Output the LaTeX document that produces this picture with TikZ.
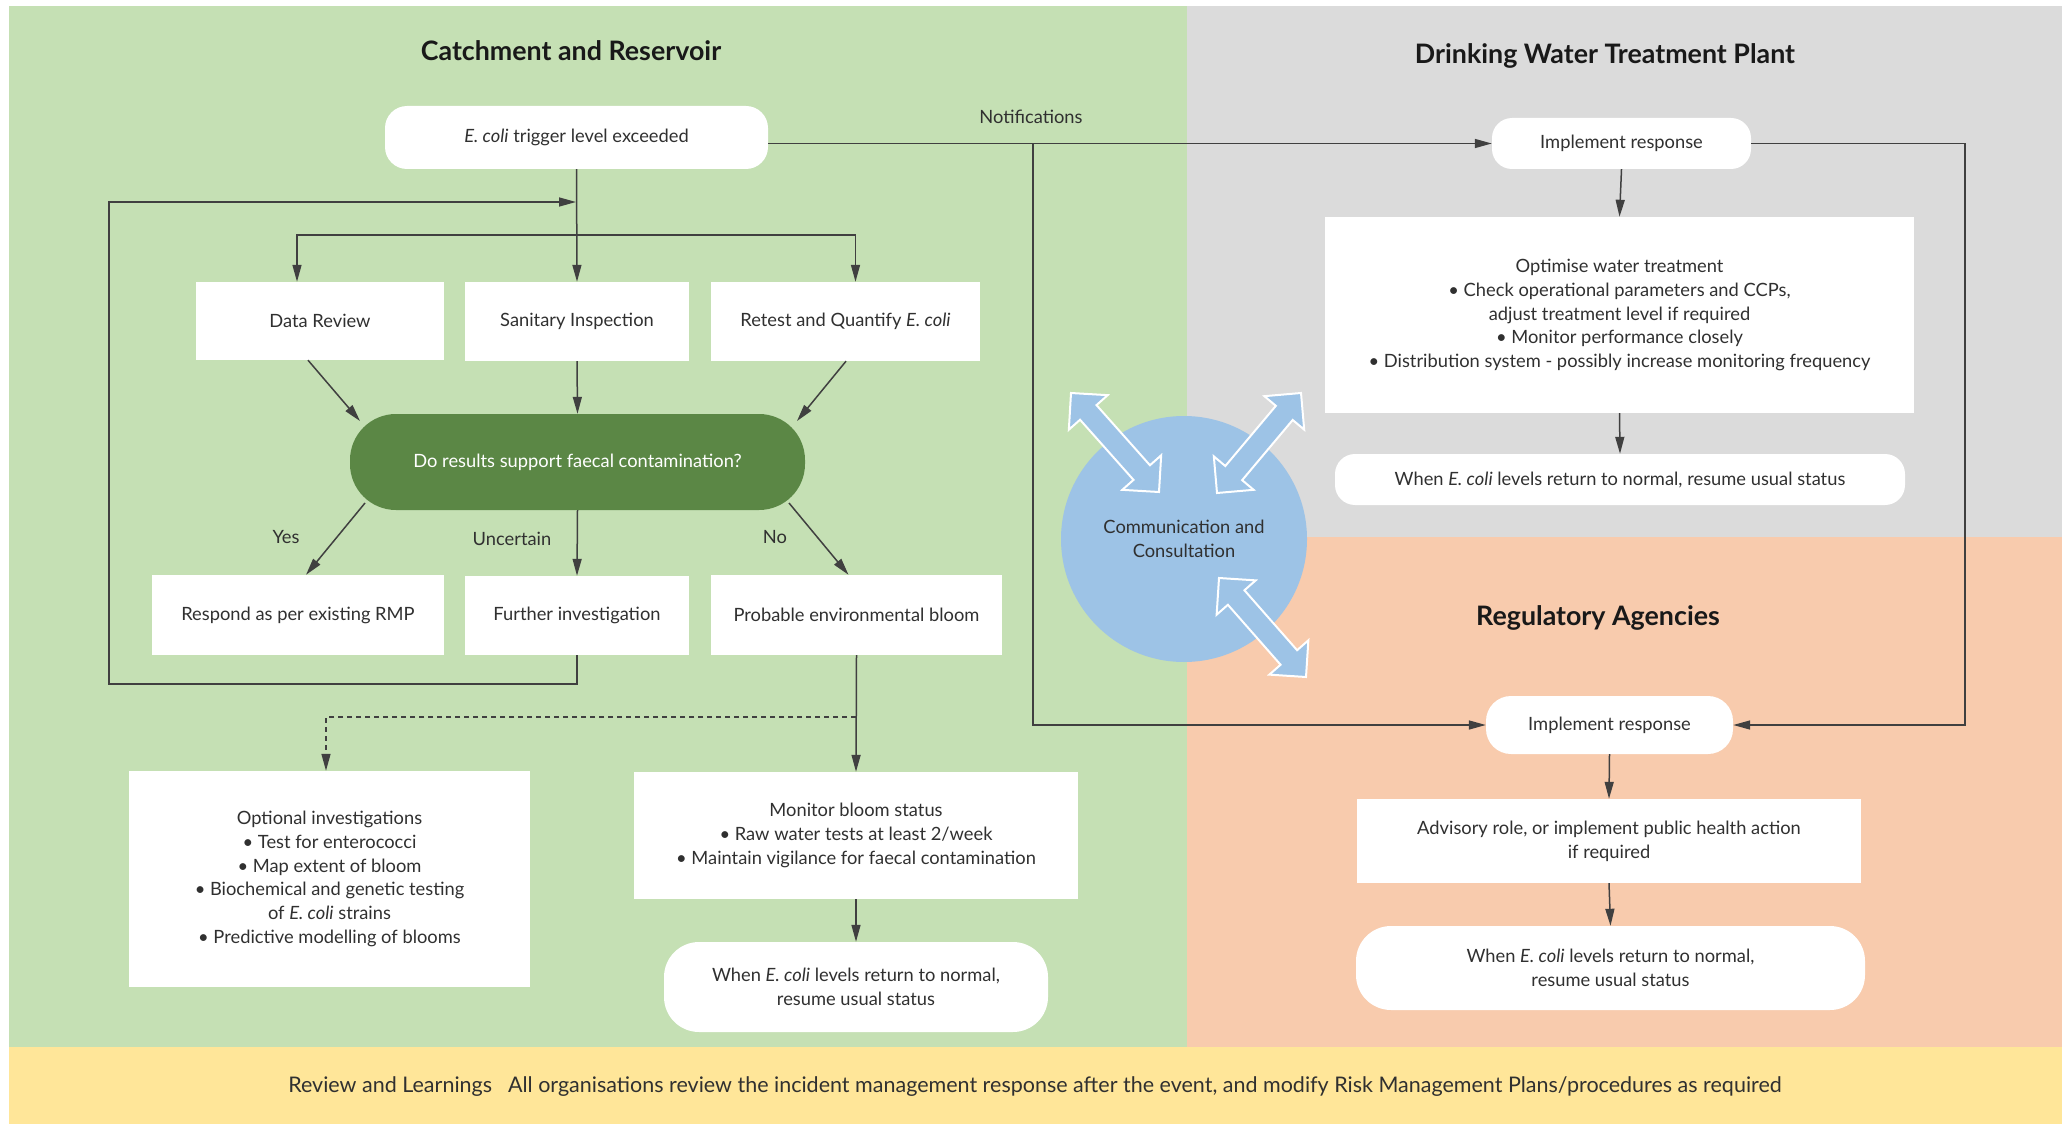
\documentclass[tikz,border=0pt]{standalone}
\usepackage{fontspec}
\setmainfont{Lato}
\usetikzlibrary{calc,arrows.meta}
\definecolor{bggreen}{HTML}{C5E0B4}
\definecolor{bggray}{HTML}{DBDBDB}
\definecolor{bgorange}{HTML}{F8CBAD}
\definecolor{bgyellow}{HTML}{FFE699}
\definecolor{cblue}{HTML}{9DC3E6}
\definecolor{decgreen}{HTML}{5B8745}
\definecolor{linegray}{HTML}{404040}
\definecolor{txtgray}{HTML}{303030}
\newcommand{\bidarrow}[2]{%
  \filldraw[blarrow] (#1)
   -- ($($(#1)!26pt!(#2)$)!26pt!90:(#2)$)
   -- ($($(#1)!26pt!(#2)$)!11pt!90:(#2)$)
   -- ($($(#2)!26pt!(#1)$)!11pt!-90:(#1)$)
   -- ($($(#2)!26pt!(#1)$)!26pt!-90:(#1)$)
   -- (#2)
   -- ($($(#2)!26pt!(#1)$)!26pt!90:(#1)$)
   -- ($($(#2)!26pt!(#1)$)!11pt!90:(#1)$)
   -- ($($(#1)!26pt!(#2)$)!11pt!-90:(#2)$)
   -- ($($(#1)!26pt!(#2)$)!26pt!-90:(#2)$)
   -- cycle;}
\begin{document}
\begin{tikzpicture}[x=1pt,y=-1pt,
  txt/.style={font=\fontsize{18.3}{23.75}\selectfont, text=txtgray, align=center},
  title/.style={font=\fontsize{26.8}{32}\selectfont\bfseries, text=black!90},
  wbox/.style={txt, fill=white, inner sep=0pt},
  rbox/.style={wbox, rounded corners=#1},
  dec/.style={fill=decgreen, text=white, font=\fontsize{18.3}{23.75}\selectfont, inner sep=0pt, rounded corners=46pt},
  conn/.style={draw=linegray, line width=1.5pt},
  arr/.style={conn, -{Triangle[length=17pt,width=9pt]}},
  dasharr/.style={arr, dash pattern=on 5pt off 4pt},
  blarrow/.style={fill=cblue, draw=white, line width=2pt, line join=miter},
  lbl/.style={txt}
]
\useasboundingbox (0,0) rectangle (2069,1126);
\fill[white] (0,0) rectangle (2069,1126);
\fill[bggreen] (9,6) rectangle (1187,1047);
\fill[bggray] (1187,6) rectangle (2062,537);
\fill[bgorange] (1187,537) rectangle (2062,1047);
\fill[bgyellow] (9,1047) rectangle (2062,1124);

% titles
\node[title] (t1) at (571,51) {Catchment and Reservoir};
\node[title] (t2) at (1605,56) {Drinking Water Treatment Plant};
\node[title] (t3) at (1598,618) {Regulatory Agencies};

% communication circle
\node[circle, fill=cblue, minimum size=246pt, inner sep=0pt, txt] (cc) at (1184,539) {Communication and\\Consultation};
\coordinate (a1) at (1071,393); \coordinate (a2) at (1159,492);
\coordinate (b1) at (1301,393); \coordinate (b2) at (1217,493);
\coordinate (c1) at (1219,578); \coordinate (c2) at (1306,677);
\bidarrow{a1}{a2}
\bidarrow{b1}{b2}
\bidarrow{c1}{c2}

% left nodes
\node[rbox=22pt, minimum width=383pt, minimum height=63pt] (trig) at (576.5,137.5) {\textit{E. coli} trigger level exceeded};
\node[wbox, minimum width=248pt, minimum height=78pt] (dr) at (320,321) {Data Review};
\node[wbox, minimum width=224pt, minimum height=79pt] (si) at (577,321.5) {Sanitary Inspection};
\node[wbox, minimum width=269pt, minimum height=79pt] (rq) at (845.5,321.5) {Retest and Quantify \textit{E. coli}};
\node[dec, minimum width=455pt, minimum height=96pt] (dc) at (577.5,462) {Do results support faecal contamination?};
\node[wbox, minimum width=292pt, minimum height=80pt] (rmp) at (298,615) {Respond as per existing RMP};
\node[wbox, minimum width=224pt, minimum height=79pt] (fi) at (577,615.5) {Further investigation};
\node[wbox, minimum width=291pt, minimum height=80pt] (peb) at (856.5,615) {Probable environmental bloom};
\node[wbox, minimum width=401pt, minimum height=216pt] (opt) at (329.5,879) {Optional investigations\\\textbullet\ Test for enterococci\\\textbullet\ Map extent of bloom\\\textbullet\ Biochemical and genetic testing\\of \textit{E. coli} strains\\\textbullet\ Predictive modelling of blooms};
\node[wbox, minimum width=444pt, minimum height=127pt] (mon) at (856,835.5) {Monitor bloom status\\\textbullet\ Raw water tests at least 2/week\\\textbullet\ Maintain vigilance for faecal contamination};
\node[rbox=35pt, minimum width=384pt, minimum height=90pt] (whl) at (856,987) {When \textit{E. coli} levels return to normal,\\resume usual status};

% right nodes
\node[rbox=20pt, minimum width=259pt, minimum height=51pt] (impd) at (1621.5,143.5) {Implement response};
\node[wbox, minimum width=589pt, minimum height=196pt] (optd) at (1619.5,315) {Optimise water treatment\\\textbullet\ Check operational parameters and CCPs,\\adjust treatment level if required\\\textbullet\ Monitor performance closely\\\textbullet\ Distribution system - possibly increase monitoring frequency};
\node[rbox=20pt, minimum width=570pt, minimum height=51pt] (whd) at (1620,479.5) {When \textit{E. coli} levels return to normal, resume usual status};
\node[rbox=25pt, minimum width=247pt, minimum height=58pt] (impr) at (1609.5,725) {Implement response};
\node[wbox, minimum width=504pt, minimum height=84pt] (adv) at (1609,841) {Advisory role, or implement public health action\\if required};
\node[rbox=35pt, minimum width=509pt, minimum height=84pt] (whr) at (1610.5,968) {When \textit{E. coli} levels return to normal,\\resume usual status};

% bottom band
\node[txt, font=\fontsize{21.5}{26}\selectfont] (rev) at (1035,1087) {Review and Learnings\hspace{16pt}All organisations review the incident management response after the event, and modify Risk Management Plans/procedures as required};

% labels
\node[lbl] (lyes) at (286,537) {Yes};
\node[lbl] (lunc) at (512,539) {Uncertain};
\node[lbl] (lno) at (775,537) {No};
\node[lbl] (lnot) at (1031,117) {Notifications};

% connectors (left)
\coordinate (br) at (576,235);
\coordinate (lpA) at (109,684);
\coordinate (lpB) at (109,202);
\coordinate (trk) at (576,202);
\draw[arr] (trig.south) -- (si.north);
\draw[arr] (br) -| ([xshift=-23pt]dr.north);
\draw[arr] (br) -| ([xshift=10pt]rq.north);
\draw[arr] (fi.south) |- (lpA) -- (lpB) -- (trk);
\draw[arr] ([xshift=-12pt]dr.south) -- (360,421);
\draw[arr] (si.south) -- (dc.north);
\draw[arr] ([xshift=0.5pt]rq.south) -- (797,421);
\draw[arr] (365,503) -- ([xshift=8pt]rmp.north);
\draw[arr] (dc.south) -- (fi.north);
\draw[arr] (789,503) -- ([xshift=-8pt]peb.north);
\coordinate (dsh) at (856,717);
\draw[arr] (peb.south) -- (mon.north);
\draw[dasharr] (dsh) -| ([xshift=-3.5pt]opt.north);
\draw[arr] (mon.south) -- (whl.north);

% connectors (right)
\coordinate (nbr) at (1033,143.5);
\coordinate (nbd) at (1033,725);
\coordinate (rr1) at (1965,143.5);
\coordinate (rr2) at (1965,725);
\draw[arr] (trig.east |- impd.west) -- (impd.west);
\draw[arr] (nbr) -- (nbd) -- (impr.west);
\draw[arr] (impd.east) -- (rr1) -- (rr2) -- (impr.east);
\draw[arr] (impd.south) -- (optd.north);
\draw[arr] (optd.south) -- (whd.north);
\draw[arr] (impr.south) -- (adv.north);
\draw[arr] (adv.south) -- (whr.north);
\end{tikzpicture}
\end{document}
